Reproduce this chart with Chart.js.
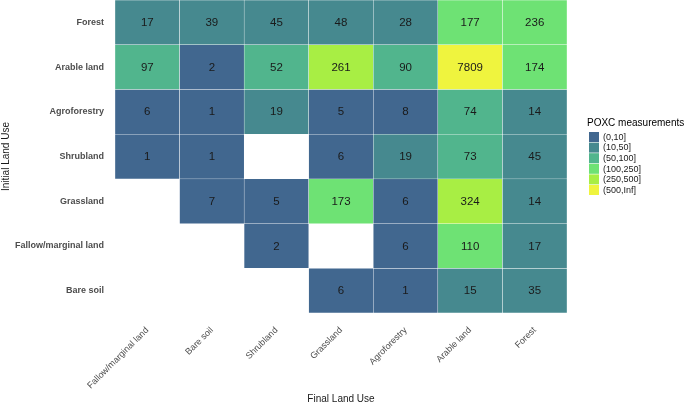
<!DOCTYPE html>
<html>
<head>
<meta charset="utf-8">
<script src="https://cdn.jsdelivr.net/npm/chart.js@4/dist/chart.umd.min.js"></script>
<style>
  html, body { margin: 0; padding: 0; background: #fff; }
  #wrap { width: 685px; height: 405px; }
</style>
</head>
<body>
<div id="wrap"><canvas id="heat"></canvas></div>
<script>
// columns (final land use) and rows (initial land use)
const finalUse = ['Fallow/marginal land', 'Bare soil', 'Shrubland', 'Grassland', 'Agroforestry', 'Arable land', 'Forest'];
const initialUse = ['Forest', 'Arable land', 'Agroforestry', 'Shrubland', 'Grassland', 'Fallow/marginal land', 'Bare soil'];

// one list per initial land use, in the order of finalUse; null = no data
const forestRow     = [17, 39, 45, 48, 28, 177, 236];
const arableRow     = [97, 2, 52, 261, 90, 7809, 174];
const agroRow       = [6, 1, 19, 5, 8, 74, 14];
const shrubRow      = [1, 1, null, 6, 19, 73, 45];
const grassRow      = [null, 7, 5, 173, 6, 324, 14];
const fallowRow     = [null, null, 2, null, 6, 110, 17];
const bareRow       = [null, null, null, 6, 1, 15, 35];
const allRows = [forestRow, arableRow, agroRow, shrubRow, grassRow, fallowRow, bareRow];

// legend bins
const binLabels = ['(0,10]', '(10,50]', '(50,100]', '(100,250]', '(250,500]', '(500,Inf]'];
const binUpper  = [10, 50, 100, 250, 500, Infinity];
const binColors = ['#41678f', '#46898f', '#51b58d', '#6ee274', '#a8ee44', '#eff43e'];

function binColor(v) {
  for (let i = 0; i < binUpper.length; i++) {
    if (v <= binUpper[i]) return binColors[i];
  }
  return binColors[binColors.length - 1];
}

const FONT = 'Liberation Sans, Arial, sans-serif';

// one floating-bar dataset per row, empty cells left out
const datasets = allRows.map((vals, r) => ({
  label: initialUse[r],
  data: vals
    .map((v, c) => ({ x: finalUse[c], y: [r - 0.5, r + 0.5], v: v }))
    .filter(d => d.v !== null),
  backgroundColor: ctx => ctx.raw ? binColor(ctx.raw.v) : 'rgba(0,0,0,0)',
  borderColor: 'rgba(255,255,255,0.7)',
  borderWidth: 0.5,
  borderSkipped: false,
  barPercentage: 1,
  categoryPercentage: 1,
  grouped: false
}));

// write the value into each cell
const cellText = {
  id: 'cellText',
  afterDatasetsDraw(chart) {
    const ctx = chart.ctx;
    ctx.save();
    ctx.font = '11.5px ' + FONT;
    ctx.fillStyle = '#1a1a1a';
    ctx.textAlign = 'center';
    ctx.textBaseline = 'middle';
    chart.data.datasets.forEach((ds, i) => {
      chart.getDatasetMeta(i).data.forEach((bar, j) => {
        const d = ds.data[j];
        if (!d) return;
        const cy = (bar.y + bar.base) / 2;
        ctx.fillText(String(d.v), bar.x, cy + 0.5);
      });
    });
    ctx.restore();
  }
};

// ggplot-style legend on the right
const binLegend = {
  id: 'binLegend',
  afterDraw(chart) {
    const ctx = chart.ctx;
    const x0 = 589, y0 = 132, box = 10.6;
    ctx.save();
    ctx.fillStyle = '#000';
    ctx.font = '10px ' + FONT;
    ctx.textAlign = 'left';
    ctx.textBaseline = 'middle';
    ctx.fillText('POXC measurements', 587, 123);
    ctx.font = '9px ' + FONT;
    binLabels.forEach((lab, i) => {
      ctx.fillStyle = binColors[i];
      ctx.fillRect(x0, y0 + i * box, 10, box - 0.6);
      ctx.fillStyle = '#1a1a1a';
      ctx.fillText(lab, 603, y0 + i * box + box / 2);
    });
    ctx.restore();
  }
};

new Chart(document.getElementById('heat'), {
  type: 'bar',
  data: { labels: finalUse, datasets: datasets },
  options: {
    responsive: true,
    maintainAspectRatio: false,
    animation: false,
    layout: { padding: { left: 0, right: 118, top: 0, bottom: 0 } },
    plugins: {
      legend: { display: false },
      tooltip: { enabled: false }
    },
    scales: {
      x: {
        type: 'category',
        offset: true,
        grid: { display: false },
        border: { display: false },
        ticks: {
          minRotation: 45,
          maxRotation: 45,
          padding: 4,
          color: '#4d4d4d',
          font: { family: FONT, size: 9 }
        },
        title: {
          display: true,
          text: 'Final Land Use',
          color: '#1a1a1a',
          font: { family: FONT, size: 10 },
          padding: { top: 0, bottom: 0 }
        },
        afterFit(scale) {
          scale.height = 92;
          scale.paddingLeft = 0;
          scale.paddingRight = 0;
        }
      },
      y: {
        type: 'linear',
        reverse: true,
        min: -0.5,
        max: 6.5,
        afterBuildTicks(axis) {
          axis.ticks = initialUse.map((_, i) => ({ value: i }));
        },
        grid: { display: false },
        border: { display: false },
        ticks: {
          padding: 3,
          color: '#4d4d4d',
          font: { family: FONT, size: 9, weight: 'bold' },
          callback: v => initialUse[v]
        },
        title: {
          display: true,
          text: 'Initial Land Use',
          color: '#1a1a1a',
          font: { family: FONT, size: 10 },
          padding: { top: 0, bottom: 0 }
        },
        afterFit(scale) {
          scale.width = 115;
          scale.paddingTop = 0;
          scale.paddingBottom = 0;
        }
      }
    }
  },
  plugins: [cellText, binLegend]
});
</script>
</body>
</html>
